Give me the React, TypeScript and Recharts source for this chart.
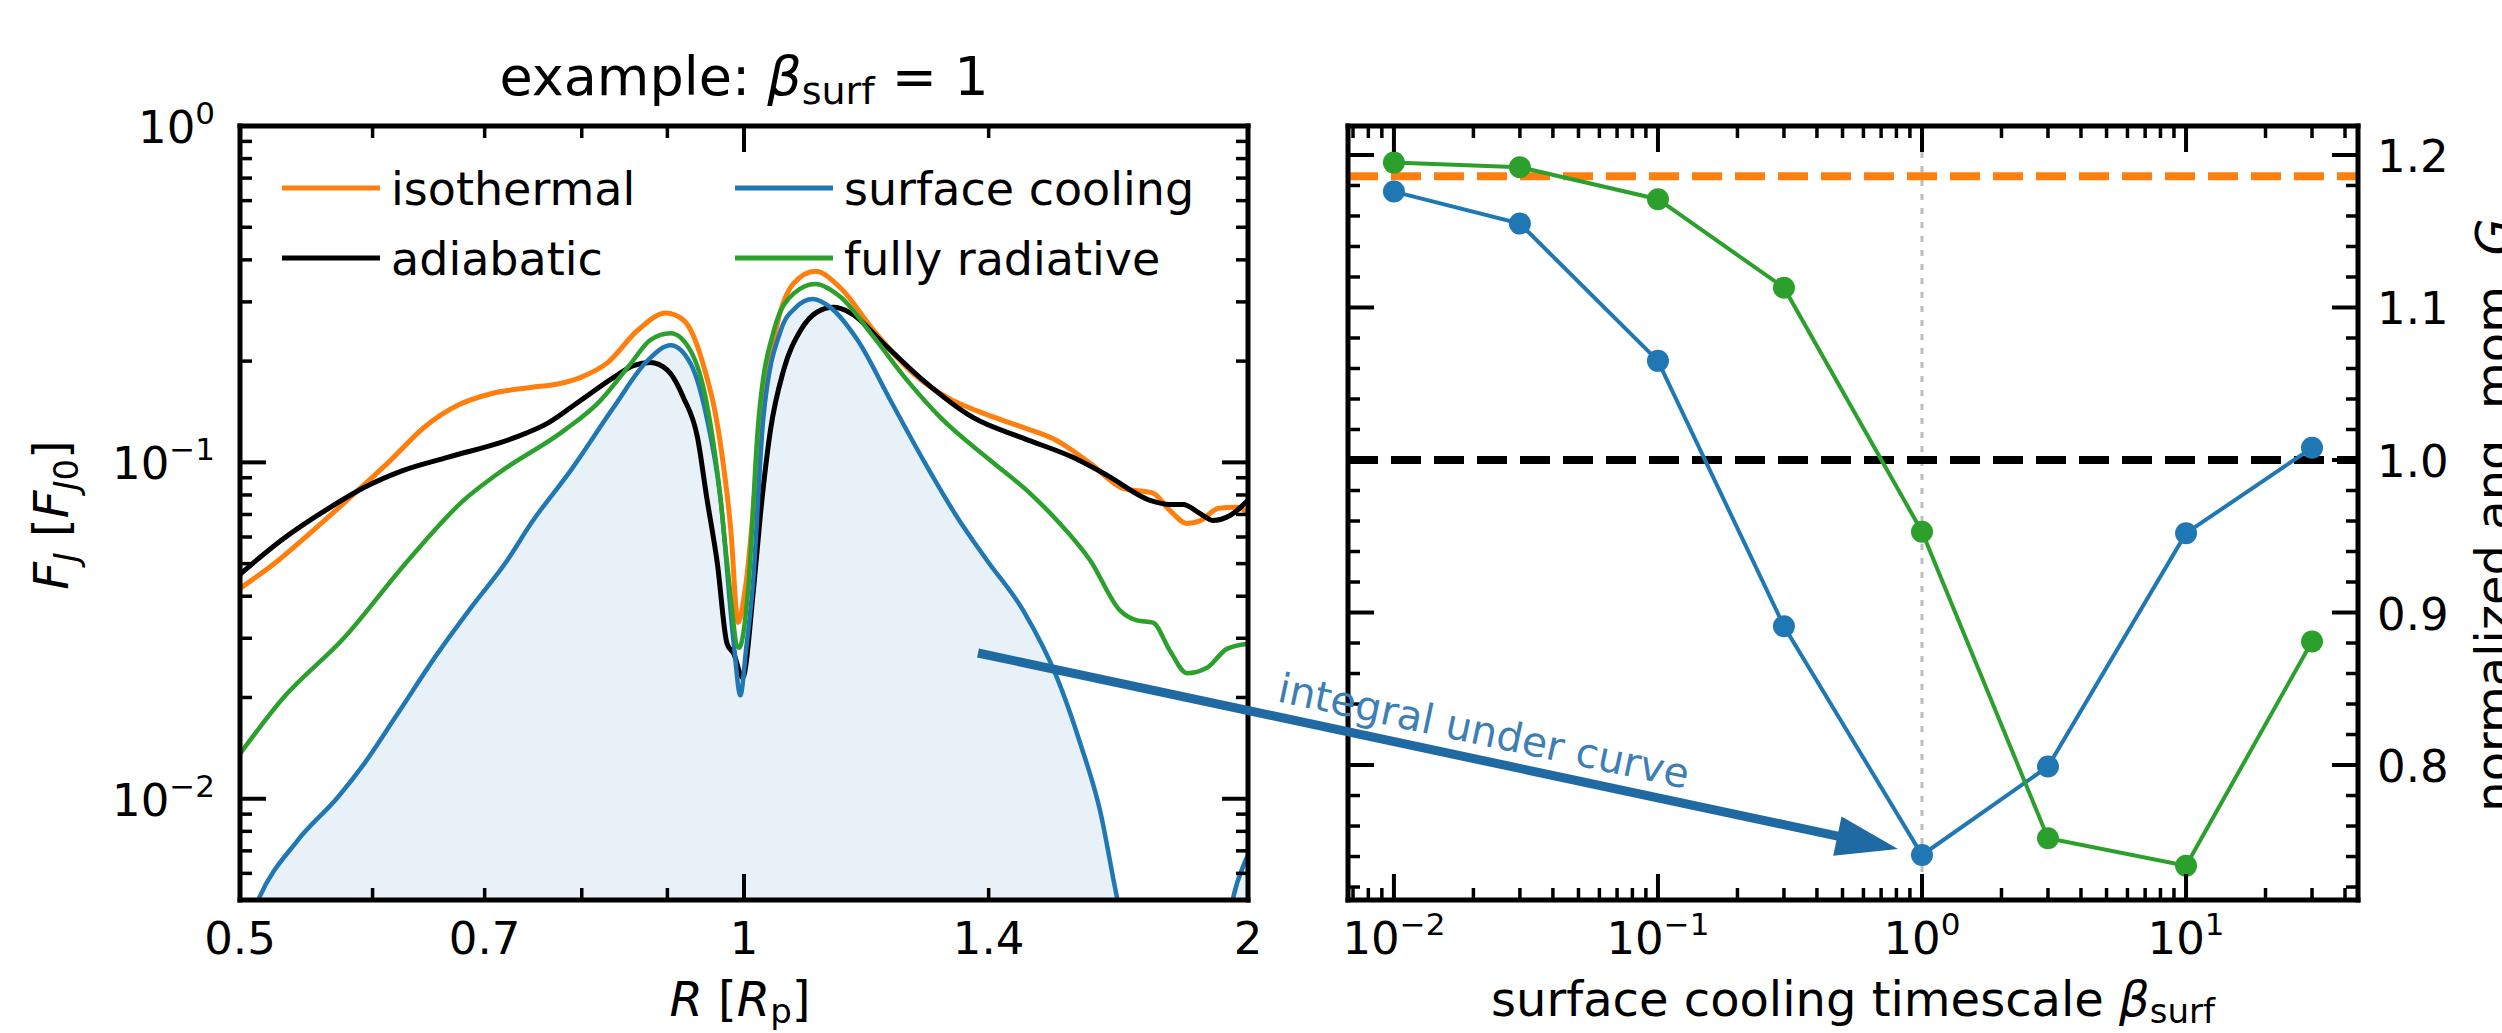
import React from 'react';
import { ComposedChart, Line, Area, XAxis, YAxis, ReferenceLine } from 'recharts';

// ---- left panel: torque density F_J(R) in units of F_J0 ----
const isothermal: [number, number][] = [
  [0.5, 0.0422], [0.527, 0.0511], [0.553, 0.0628], [0.588, 0.0825], [0.615, 0.1014],
  [0.644, 0.127], [0.675, 0.148], [0.706, 0.16], [0.746, 0.167], [0.774, 0.171],
  [0.799, 0.179], [0.829, 0.198], [0.864, 0.247], [0.898, 0.278], [0.92, 0.265],
  [0.945, 0.197], [0.968, 0.114], [0.982, 0.063], [0.992, 0.0334], [1.002, 0.0425],
  [1.023, 0.1245], [1.047, 0.259], [1.071, 0.341], [1.103, 0.37], [1.142, 0.33],
  [1.195, 0.247], [1.262, 0.184], [1.322, 0.156], [1.384, 0.141], [1.468, 0.127],
  [1.538, 0.116], [1.61, 0.0993], [1.684, 0.0837], [1.755, 0.081], [1.796, 0.072],
  [1.839, 0.0658], [1.872, 0.067], [1.921, 0.073], [1.97, 0.0735], [2.0, 0.0705],
];

const adiabatic: [number, number][] = [
  [0.5, 0.0465], [0.529, 0.0586], [0.566, 0.0735], [0.593, 0.0842], [0.626, 0.0947],
  [0.665, 0.1035], [0.728, 0.118], [0.764, 0.131], [0.799, 0.153], [0.836, 0.179],
  [0.859, 0.194], [0.879, 0.198], [0.9, 0.188], [0.92, 0.156], [0.938, 0.1187],
  [0.95, 0.0787], [0.964, 0.0501], [0.977, 0.0289], [0.986, 0.027], [0.998, 0.0229],
  [1.013, 0.0416], [1.023, 0.0705], [1.037, 0.1245], [1.056, 0.188], [1.081, 0.247],
  [1.106, 0.28], [1.131, 0.289], [1.158, 0.278], [1.211, 0.226], [1.28, 0.175],
  [1.37, 0.136], [1.468, 0.118], [1.572, 0.1035], [1.648, 0.0915], [1.748, 0.0771],
  [1.796, 0.075], [1.829, 0.075], [1.872, 0.0705], [1.906, 0.0672], [1.951, 0.0695],
  [2.0, 0.0771],
];

const surfaceCooling: [number, number][] = [
  [0.5, 0.0036], [0.513, 0.00504], [0.541, 0.0075], [0.572, 0.0101], [0.593, 0.0127],
  [0.621, 0.0179], [0.656, 0.027], [0.687, 0.037], [0.722, 0.0511], [0.746, 0.0658],
  [0.788, 0.0947], [0.836, 0.146], [0.876, 0.201], [0.904, 0.223], [0.929, 0.197],
  [0.95, 0.136], [0.968, 0.0787], [0.986, 0.029], [0.995, 0.0203], [1.003, 0.028],
  [1.012, 0.0425], [1.027, 0.136], [1.052, 0.247], [1.074, 0.289], [1.099, 0.306],
  [1.126, 0.289], [1.169, 0.231], [1.223, 0.153], [1.28, 0.1014], [1.341, 0.0686],
  [1.397, 0.0511], [1.468, 0.0363], [1.538, 0.0229], [1.588, 0.0146], [1.632, 0.0092],
  [1.671, 0.00504], [1.72, 0.0028], [1.85, 0.0018], [1.93, 0.0032], [1.959, 0.00504],
  [1.992, 0.0065], [2.0, 0.0068],
];

const fullyRadiative: [number, number][] = [
  [0.5, 0.0136], [0.529, 0.0196], [0.577, 0.0301], [0.63, 0.0511], [0.68, 0.0771],
  [0.713, 0.0927], [0.781, 0.1245], [0.818, 0.15], [0.856, 0.197], [0.879, 0.231],
  [0.904, 0.242], [0.929, 0.215], [0.95, 0.15], [0.968, 0.0787], [0.977, 0.0501],
  [0.993, 0.0281], [1.006, 0.0425], [1.019, 0.1245], [1.042, 0.247], [1.071, 0.318],
  [1.103, 0.339], [1.142, 0.31], [1.195, 0.236], [1.252, 0.175], [1.31, 0.136],
  [1.403, 0.1014], [1.482, 0.0809], [1.538, 0.0672], [1.61, 0.0511], [1.677, 0.0363],
  [1.717, 0.0339], [1.755, 0.0334], [1.796, 0.0276], [1.839, 0.0236], [1.89, 0.0245],
  [1.943, 0.0279], [2.0, 0.0289],
];

// ---- right panel: normalized angular momentum G vs beta_surf ----
const betaSurf = [0.01, 0.03, 0.1, 0.3, 1, 3, 10, 30];
const gSurfaceCooling = [1.176, 1.155, 1.065, 0.891, 0.741, 0.799, 0.952, 1.008];
const gFullyRadiative = [1.195, 1.192, 1.171, 1.113, 0.953, 0.752, 0.734, 0.881];
const gIsothermal = 1.186;
const gAdiabatic = 1.0;

// ---- ticks ----
const rTicks = [0.5, 0.6, 0.7, 0.8, 0.9, 1, 1.4, 2];
const rLabels = [0.5, 0.7, 1, 1.4, 2];
const fTicks = [
  0.005, 0.006, 0.007, 0.008, 0.009, 0.01, 0.02, 0.03, 0.04, 0.05, 0.06, 0.07, 0.08, 0.09,
  0.1, 0.2, 0.3, 0.4, 0.5, 0.6, 0.7, 0.8, 0.9, 1,
];
const betaTicks = [
  0.007, 0.008, 0.009, 0.01, 0.02, 0.03, 0.04, 0.05, 0.06, 0.07, 0.08, 0.09,
  0.1, 0.2, 0.3, 0.4, 0.5, 0.6, 0.7, 0.8, 0.9, 1, 2, 3, 4, 5, 6, 7, 8, 9, 10, 20, 30, 40,
];
const gTicks = [
  0.72, 0.74, 0.76, 0.78, 0.8, 0.82, 0.84, 0.86, 0.88, 0.9, 0.92, 0.94, 0.96, 0.98, 1.0,
  1.02, 1.04, 1.06, 1.08, 1.1, 1.12, 1.14, 1.16, 1.18, 1.2,
];
const gLabels = [0.8, 0.9, 1.0, 1.1, 1.2];

const ORANGE = '#ff7f0e';
const BLUE = '#1f77b4';
const GREEN = '#2ca02c';
const BLACK = '#000000';
const FONT = '"DejaVu Sans", sans-serif';
const MAJOR = 26;
const MINOR = 12;
const AXIS = { stroke: '#000', strokeWidth: 5, strokeLinecap: 'square' as const };

const toPts = (arr: [number, number][]) => arr.map(([R, F]) => ({ R, F }));
const rightData = betaSurf.map((b, i) => ({ b, surf: gSurfaceCooling[i], rad: gFullyRadiative[i] }));

const isDecade = (v: number) => Math.abs(Math.log10(v) - Math.round(Math.log10(v))) < 1e-6;
const near = (list: number[], v: number) => list.some((m) => Math.abs(m - v) < 1e-6);

function TenPow({ x, y, exp, anchor }: { x: number; y: number; exp: number; anchor: 'start' | 'middle' | 'end' }) {
  return (
    <text x={x} y={y} textAnchor={anchor} fontSize={45} fontFamily={FONT} fill="#000">
      10
      <tspan dy={-19} fontSize={31}>
        {exp < 0 ? `\u2212${-exp}` : `${exp}`}
      </tspan>
    </text>
  );
}

type Side = 'bottom' | 'top' | 'left' | 'right';

// ticks point into the plot, like the matplotlib original
function makeTick(side: Side, isMajor: (v: number) => boolean, label?: (v: number, x: number, y: number) => React.ReactNode) {
  return (p: any) => {
    const v = p.payload.value;
    const { x, y } = p;
    const len = isMajor(v) ? MAJOR : MINOR;
    let x2 = x;
    let y2 = y;
    if (side === 'bottom') y2 = y - len;
    if (side === 'top') y2 = y + len;
    if (side === 'left') x2 = x + len;
    if (side === 'right') x2 = x - len;
    return (
      <g>
        <line x1={x} y1={y} x2={x2} y2={y2} stroke="#000" strokeWidth={isMajor(v) ? 4 : 3.5} />
        {label ? label(v, x, y) : null}
      </g>
    );
  };
}

const rMajor = (v: number) => v === 1;
const gMajor = (v: number) => near(gLabels, v);

const rBottomTick = makeTick('bottom', rMajor, (v, x, y) =>
  near(rLabels, v) ? (
    <text x={x} y={y + 54} textAnchor="middle" fontSize={45} fontFamily={FONT} fill="#000">
      {String(v)}
    </text>
  ) : null
);
const rTopTick = makeTick('top', rMajor);
const fLeftTick = makeTick('left', isDecade, (v, x, y) =>
  isDecade(v) ? <TenPow x={x - 25} y={y + 17} exp={Math.round(Math.log10(v))} anchor="end" /> : null
);
const fRightTick = makeTick('right', isDecade);

const bBottomTick = makeTick('bottom', isDecade, (v, x, y) =>
  isDecade(v) ? <TenPow x={x} y={y + 54} exp={Math.round(Math.log10(v))} anchor="middle" /> : null
);
const bTopTick = makeTick('top', isDecade);
const gLeftTick = makeTick('left', gMajor);
const gRightTick = makeTick('right', gMajor, (v, x, y) =>
  gMajor(v) ? (
    <text x={x + 19} y={y + 17} textAnchor="start" fontSize={45} fontFamily={FONT} fill="#000">
      {v.toFixed(1)}
    </text>
  ) : null
);

const axisCommon = { tickSize: 0, tickMargin: 0, tickLine: false, axisLine: AXIS, interval: 0 as const, allowDataOverflow: true };

function ProfilePanel() {
  return (
    <ComposedChart width={1300} height={1033} margin={{ top: 125, right: 51, bottom: 132, left: 239 }}>
      <XAxis {...axisCommon} dataKey="R" type="number" scale="log" domain={[0.5, 2]} ticks={rTicks} height={1} tick={rBottomTick} />
      <XAxis {...axisCommon} xAxisId="t" orientation="top" dataKey="R" type="number" scale="log" domain={[0.5, 2]} ticks={rTicks} height={1} tick={rTopTick} />
      <YAxis {...axisCommon} type="number" scale="log" domain={[0.005, 1]} ticks={fTicks} width={1} tick={fLeftTick} />
      <YAxis {...axisCommon} yAxisId="r" orientation="right" type="number" scale="log" domain={[0.005, 1]} ticks={fTicks} width={1} tick={fRightTick} />
      <Area data={toPts(surfaceCooling)} dataKey="F" type="monotone" baseValue="dataMin" stroke="none" fill={BLUE} fillOpacity={0.1} isAnimationActive={false} />
      <Line data={toPts(isothermal)} dataKey="F" type="monotone" stroke={ORANGE} strokeWidth={5} dot={false} isAnimationActive={false} />
      <Line data={toPts(adiabatic)} dataKey="F" type="monotone" stroke={BLACK} strokeWidth={5} dot={false} isAnimationActive={false} />
      <Line data={toPts(surfaceCooling)} dataKey="F" type="monotone" stroke={BLUE} strokeWidth={4.5} dot={false} isAnimationActive={false} />
      <Line data={toPts(fullyRadiative)} dataKey="F" type="monotone" stroke={GREEN} strokeWidth={4.5} dot={false} isAnimationActive={false} />
    </ComposedChart>
  );
}

function TorquePanel() {
  const bDomain = [0.0067, 44.8];
  const gDomain = [0.7115, 1.219];
  return (
    <ComposedChart width={1202} height={1033} data={rightData} margin={{ top: 125, right: 143, bottom: 132, left: 47 }}>
      <XAxis {...axisCommon} dataKey="b" type="number" scale="log" domain={bDomain} ticks={betaTicks} height={1} tick={bBottomTick} />
      <XAxis {...axisCommon} xAxisId="t" orientation="top" dataKey="b" type="number" scale="log" domain={bDomain} ticks={betaTicks} height={1} tick={bTopTick} />
      <YAxis {...axisCommon} type="number" domain={gDomain} ticks={gTicks} width={1} tick={gLeftTick} />
      <YAxis {...axisCommon} yAxisId="r" orientation="right" type="number" domain={gDomain} ticks={gTicks} width={1} tick={gRightTick} />
      <ReferenceLine x={1} stroke="#bdbdbd" strokeWidth={3} strokeDasharray="6 8" />
      <ReferenceLine y={gIsothermal} stroke={ORANGE} strokeWidth={8} strokeDasharray="30 13" />
      <ReferenceLine y={gAdiabatic} stroke={BLACK} strokeWidth={8} strokeDasharray="30 13" />
      <Line dataKey="surf" type="linear" stroke={BLUE} strokeWidth={4} dot={{ r: 11, fill: BLUE, stroke: BLUE, strokeWidth: 0 }} isAnimationActive={false} />
      <Line dataKey="rad" type="linear" stroke={GREEN} strokeWidth={4} dot={{ r: 11, fill: GREEN, stroke: GREEN, strokeWidth: 0 }} isAnimationActive={false} />
    </ComposedChart>
  );
}

const legendItems = [
  { name: 'isothermal', color: ORANGE, col: 0, row: 0 },
  { name: 'adiabatic', color: BLACK, col: 0, row: 1 },
  { name: 'surface cooling', color: BLUE, col: 1, row: 0 },
  { name: 'fully radiative', color: GREEN, col: 1, row: 1 },
];

function Overlay() {
  // arrow from the left panel to the beta_surf = 1 point
  const start = [978, 653];
  const tip = [1898, 849];
  const dx = tip[0] - start[0];
  const dy = tip[1] - start[1];
  const L = Math.hypot(dx, dy);
  const ux = dx / L;
  const uy = dy / L;
  const back = [tip[0] - 62 * ux, tip[1] - 62 * uy];
  const c1 = [back[0] - 20 * uy, back[1] + 20 * ux];
  const c2 = [back[0] + 20 * uy, back[1] - 20 * ux];
  const angle = (Math.atan2(dy, dx) * 180) / Math.PI;
  return (
    <svg width={2502} height={1033} style={{ position: 'absolute', left: 0, top: 0, pointerEvents: 'none' }} fontFamily={FONT}>
      <text x={744} y={95} textAnchor="middle" fontSize={54} fill="#000">
        example:{' '}
        <tspan fontStyle="italic">β</tspan>
        <tspan fontSize={38} dy={9}>surf</tspan>
        <tspan dy={-9}> = 1</tspan>
      </text>
      {legendItems.map((it) => {
        const lx = it.col === 0 ? 282 : 735;
        const ly = it.row === 0 ? 188 : 258;
        return (
          <g key={it.name}>
            <line x1={lx} y1={ly} x2={lx + 98} y2={ly} stroke={it.color} strokeWidth={5} />
            <text x={lx + 109} y={ly + 17} fontSize={46} fill="#000">
              {it.name}
            </text>
          </g>
        );
      })}
      <text x={740} y={1016} textAnchor="middle" fontSize={48} fill="#000">
        <tspan fontStyle="italic">R</tspan> [<tspan fontStyle="italic">R</tspan>
        <tspan fontSize={34} dy={7}>p</tspan>
        <tspan dy={-7}>]</tspan>
      </text>
      <text transform="translate(68,515) rotate(-90)" textAnchor="middle" fontSize={48} fill="#000">
        <tspan fontStyle="italic">F</tspan>
        <tspan fontSize={34} dy={10} fontStyle="italic">J</tspan>
        <tspan dy={-10}> [</tspan>
        <tspan fontStyle="italic">F</tspan>
        <tspan fontSize={34} dy={10}>
          <tspan fontStyle="italic">J</tspan>0
        </tspan>
        <tspan dy={-10}>]</tspan>
      </text>
      <text x={1853} y={1016} textAnchor="middle" fontSize={48} fill="#000">
        surface cooling timescale <tspan fontStyle="italic">β</tspan>
        <tspan fontSize={34} dy={7}>surf</tspan>
      </text>
      <text transform="translate(2510,515) rotate(-90)" textAnchor="middle" fontSize={48} fill="#000">
        normalized ang. mom. <tspan fontStyle="italic">G</tspan>
      </text>
      <line x1={start[0]} y1={start[1]} x2={back[0] + 4 * ux} y2={back[1] + 4 * uy} stroke="#1f6aa3" strokeWidth={9} />
      <polygon points={`${tip[0]},${tip[1]} ${c1[0]},${c1[1]} ${c2[0]},${c2[1]}`} fill="#1f6aa3" />
      <text transform={`translate(1481,745) rotate(${angle.toFixed(2)})`} textAnchor="middle" fontSize={41} fill="#3d7fb5">
        integral under curve
      </text>
    </svg>
  );
}

export default function App() {
  return (
    <div style={{ position: 'absolute', left: 0, top: 0, width: 2502, height: 1033, background: '#fff', overflow: 'hidden' }}>
      <div style={{ position: 'absolute', left: 0, top: 0 }}>
        <ProfilePanel />
      </div>
      <div style={{ position: 'absolute', left: 1300, top: 0 }}>
        <TorquePanel />
      </div>
      <Overlay />
    </div>
  );
}
